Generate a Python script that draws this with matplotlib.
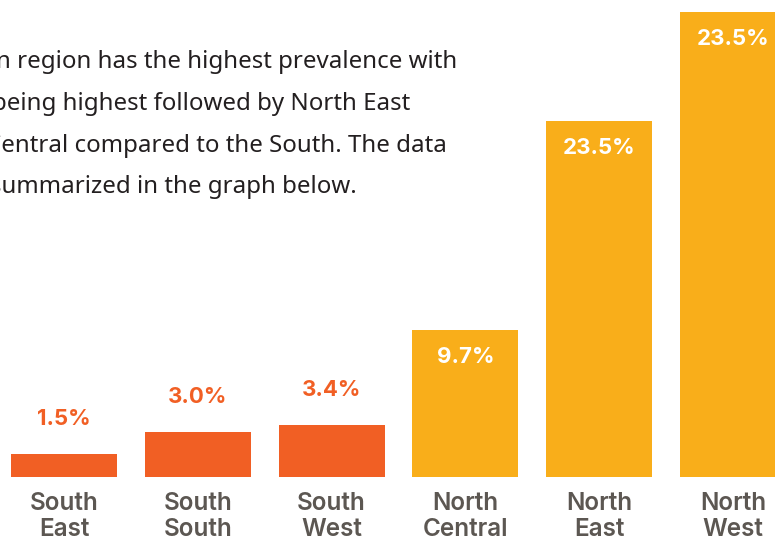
import matplotlib.pyplot as plt

# Regional prevalence (bar heights; printed labels as shown)
regions      = ["South\nEast", "South\nSouth", "South\nWest", "North\nCentral", "North\nEast", "North\nWest"]
values       = [1.5, 3.0, 3.4, 9.7, 23.5, 30.7]
value_labels = ["1.5%", "3.0%", "3.4%", "9.7%", "23.5%", "23.5%"]
is_north     = [False, False, False, True, True, True]

text_lines = [
    "n region has the highest prevalence with",
    "being highest followed by North East",
    "Central compared to the South. The data",
    "summarized in the graph below.",
]
text_x_px  = [-4, -8, -14, -10]

orange = "#F15F24"
yellow = "#F9AE1A"
grey   = "#5C5752"
ink    = "#231F20"

W, H = 775, 539
fig = plt.figure(figsize=(W / 100, H / 100), dpi=100)
fig.patch.set_facecolor("white")

base_px = 477
ax = fig.add_axes([0, (H - base_px) / H, 1, base_px / H])
ax.set_xlim(-64 / 133.8, (W - 64) / 133.8)
ax.set_ylim(0, base_px / 15.15)
ax.axis("off")

x = list(range(len(regions)))
colors = [yellow if n else orange for n in is_north]
ax.bar(x, values, width=0.792, color=colors, linewidth=0)

for xi, v, lab, n in zip(x, values, value_labels, is_north):
    if n:
        ax.annotate(lab, (xi, v), xytext=(0, -12.5), textcoords="offset points",
                    ha="center", va="top", color="white", fontsize=16,
                    fontweight="bold", family="Inter")
    else:
        ax.annotate(lab, (xi, v), xytext=(0, 18), textcoords="offset points",
                    ha="center", va="bottom", color=orange, fontsize=16,
                    fontweight="bold", family="Inter")

    ax.annotate(regions[xi], (xi, 0), xytext=(0, -10.5), textcoords="offset points",
                ha="center", va="top", color=grey, fontsize=17.5,
                fontweight="semibold", family="Inter", linespacing=1.2,
                annotation_clip=False)

baselines = [68, 110, 152, 193]
for line, xp, yb in zip(text_lines, text_x_px, baselines):
    fig.text(xp / W, 1 - yb / H, line, ha="left", va="baseline",
             color=ink, fontsize=17.3, family="Noto Sans")

fig.savefig("out.png", dpi=100)
